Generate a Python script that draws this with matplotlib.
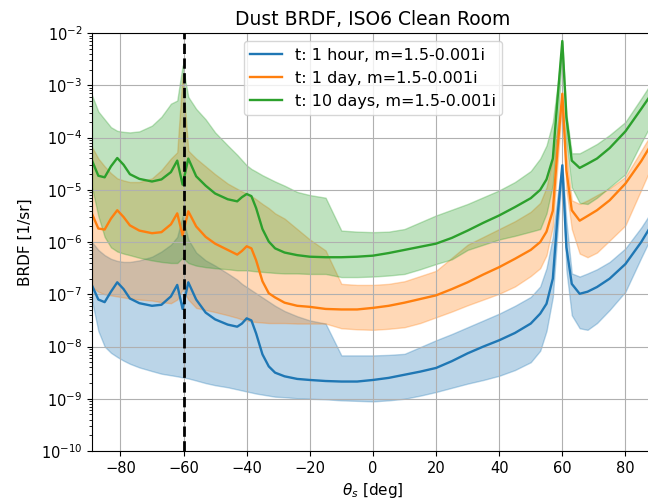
import numpy as np
import matplotlib
matplotlib.use('Agg')
import matplotlib.pyplot as plt

# scattering angle grid [deg]
theta = [-89, -87, -85, -83, -81, -79, -77, -74, -70, -67,
         -64, -62, -60.3, -58.5, -56, -53, -50, -46, -43, -41.5,
         -40, -38.5, -37, -35, -33, -31, -28, -24, -20, -15,
         -10, -5, 0, 5, 10, 15, 20, 25, 30, 35,
         40, 45, 50, 53, 55, 57, 58.5, 60, 61.3, 63,
         65.5, 68, 71, 75, 80, 85, 89]

# all values below are log10(BRDF [1/sr])
# t: 1 hour
hour_mid = [-6.83, -7.10, -7.15, -6.95, -6.77, -6.90, -7.08, -7.17, -7.22, -7.20,
            -7.04, -6.82, -7.28, -6.77, -7.10, -7.35, -7.48, -7.58, -7.62, -7.56,
            -7.46, -7.50, -7.75, -8.15, -8.38, -8.50, -8.57, -8.62, -8.64, -8.66,
            -8.67, -8.67, -8.64, -8.60, -8.54, -8.48, -8.41, -8.28, -8.13, -8.00,
            -7.88, -7.74, -7.56, -7.37, -7.18, -6.70, -5.50, -4.53, -6.10, -6.80,
            -6.99, -6.95, -6.86, -6.70, -6.42, -6.00, -5.60]
hour_hi = [-6.00, -6.15, -6.25, -6.32, -6.36, -6.38, -6.38, -6.35, -6.28, -6.18,
           -6.05, -5.90, -5.50, -5.95, -6.20, -6.35, -6.45, -6.60, -6.72, -6.80,
           -6.86, -6.92, -6.98, -7.06, -7.14, -7.22, -7.32, -7.42, -7.50, -7.56,
           -8.17, -8.17, -8.17, -8.16, -8.14, -8.01, -7.88, -7.76, -7.63, -7.50,
           -7.37, -7.22, -7.05, -6.85, -6.50, -5.90, -5.10, -4.50, -5.60, -6.60,
           -6.66, -6.60, -6.52, -6.38, -6.12, -5.72, -5.35]
hour_lo = [-7.12, -7.70, -8.00, -8.12, -8.20, -8.27, -8.33, -8.40, -8.47, -8.52,
           -8.55, -8.57, -8.59, -8.61, -8.65, -8.70, -8.74, -8.78, -8.82, -8.84,
           -8.86, -8.88, -8.90, -8.92, -8.94, -8.96, -8.97, -8.99, -9.00, -9.01,
           -9.03, -9.04, -9.05, -9.03, -9.00, -8.94, -8.87, -8.79, -8.71, -8.64,
           -8.56, -8.45, -8.30, -8.08, -7.70, -7.05, -5.80, -4.60, -6.54, -7.40,
           -7.65, -7.68, -7.55, -7.30, -6.95, -6.30, -5.80]

# t: 1 day
day_mid = [-5.46, -5.74, -5.76, -5.55, -5.39, -5.52, -5.68, -5.78, -5.83, -5.81,
           -5.66, -5.45, -5.87, -5.41, -5.70, -5.90, -6.03, -6.15, -6.24, -6.17,
           -6.08, -6.12, -6.35, -6.75, -6.98, -7.06, -7.16, -7.22, -7.24, -7.28,
           -7.29, -7.29, -7.26, -7.22, -7.16, -7.09, -7.02, -6.90, -6.77, -6.62,
           -6.48, -6.32, -6.15, -6.00, -5.80, -5.40, -4.20, -3.16, -4.63, -5.39,
           -5.59, -5.50, -5.39, -5.20, -4.88, -4.45, -4.05]
day_hi = [-4.18, -4.40, -4.55, -4.68, -4.78, -4.82, -4.85, -4.85, -4.78, -4.62,
          -4.40, -4.28, -2.80, -4.25, -4.40, -4.55, -4.70, -4.88, -4.98, -5.03,
          -5.07, -5.12, -5.18, -5.27, -5.35, -5.45, -5.55, -5.75, -5.95, -6.16,
          -6.80, -6.82, -6.82, -6.80, -6.75, -6.65, -6.55, -6.30, -6.05, -5.90,
          -5.75, -5.60, -5.42, -5.25, -4.95, -4.40, -3.80, -3.12, -4.30, -5.20,
          -5.27, -5.20, -5.10, -4.97, -4.75, -4.25, -3.85]
day_lo = [-6.86, -6.95, -7.00, -7.02, -7.04, -7.06, -7.08, -7.10, -7.12, -7.15,
          -7.17, -7.10, -6.90, -7.10, -7.26, -7.30, -7.34, -7.40, -7.45, -7.48,
          -7.50, -7.52, -7.53, -7.54, -7.55, -7.55, -7.55, -7.56, -7.56, -7.56,
          -7.65, -7.67, -7.68, -7.66, -7.63, -7.55, -7.44, -7.33, -7.21, -7.10,
          -6.99, -6.85, -6.65, -6.50, -6.25, -5.70, -4.50, -3.30, -5.00, -5.75,
          -6.22, -6.29, -6.20, -5.97, -5.68, -5.00, -4.45]

# t: 10 days
days10_mid = [-4.44, -4.73, -4.76, -4.55, -4.39, -4.52, -4.70, -4.79, -4.84, -4.80,
              -4.66, -4.44, -4.90, -4.40, -4.74, -4.92, -5.07, -5.18, -5.22, -5.14,
              -5.08, -5.12, -5.35, -5.75, -5.99, -6.12, -6.20, -6.25, -6.28, -6.29,
              -6.29, -6.28, -6.26, -6.21, -6.15, -6.09, -6.03, -5.92, -5.78, -5.63,
              -5.49, -5.33, -5.16, -5.00, -4.80, -4.40, -3.25, -2.15, -3.61, -4.44,
              -4.58, -4.50, -4.40, -4.20, -3.88, -3.45, -3.10]
days10_hi = [-3.19, -3.50, -3.65, -3.80, -3.87, -3.89, -3.90, -3.88, -3.77, -3.60,
             -3.35, -3.29, -2.62, -3.22, -3.45, -3.65, -3.90, -4.15, -4.33, -4.43,
             -4.53, -4.60, -4.65, -4.72, -4.78, -4.84, -4.92, -5.04, -5.10, -5.15,
             -5.78, -5.80, -5.81, -5.80, -5.75, -5.62, -5.49, -5.38, -5.27, -5.14,
             -5.01, -4.85, -4.64, -4.40, -4.15, -3.70, -3.00, -2.16, -3.55, -4.30,
             -4.30, -4.22, -4.12, -3.95, -3.70, -3.25, -2.88]
days10_lo = [-4.95, -5.50, -5.90, -6.10, -6.18, -6.22, -6.25, -6.30, -6.35, -6.38,
             -6.40, -6.40, -6.30, -6.40, -6.45, -6.48, -6.50, -6.52, -6.54, -6.54,
             -6.54, -6.55, -6.56, -6.57, -6.58, -6.59, -6.60, -6.60, -6.61, -6.61,
             -6.67, -6.67, -6.66, -6.64, -6.61, -6.52, -6.42, -6.33, -6.15, -6.05,
             -5.95, -5.88, -5.80, -5.75, -5.45, -4.90, -3.80, -2.30, -4.10, -4.95,
             -5.25, -5.27, -5.15, -4.95, -4.70, -4.10, -3.65]

labels = ['t: 1 hour, m=1.5-0.001i', 't: 1 day, m=1.5-0.001i',
          't: 10 days, m=1.5-0.001i']
series = [(hour_mid, hour_lo, hour_hi),
          (day_mid, day_lo, day_hi),
          (days10_mid, days10_lo, days10_hi)]
colors = ['C0', 'C1', 'C2']

fig = plt.figure(figsize=(6.48, 5.01), dpi=100)
ax = fig.add_axes([0.142, 0.0998, 0.867, 0.834])

for (mid, lo, hi), lab, c in zip(series, labels, colors):
    ax.plot(theta, np.power(10.0, mid), c=c, lw=1.7, label=lab)
    ax.fill_between(theta, np.power(10.0, lo), np.power(10.0, hi),
                    color=c, alpha=0.3)

ax.axvline(-60, color='k', ls='--', lw=2)

ax.set_yscale('log')
ax.set_xlim(-89, 89)
ax.set_ylim(1e-10, 1e-2)
ax.set_yticks([10.0 ** k for k in range(-10, -1)])
ax.set_xticks(range(-80, 81, 20))
ax.tick_params(labelsize=10.5)
ax.grid(True)
ax.legend(loc='upper center', fontsize=11.5)
ax.set_title('Dust BRDF, ISO6 Clean Room', fontsize=13.5)
ax.set_xlabel(r'$\theta_s$ [deg]', fontsize=11)
ax.set_ylabel('BRDF [1/sr]', fontsize=11, labelpad=6)

fig.savefig('out.png', dpi=100)
